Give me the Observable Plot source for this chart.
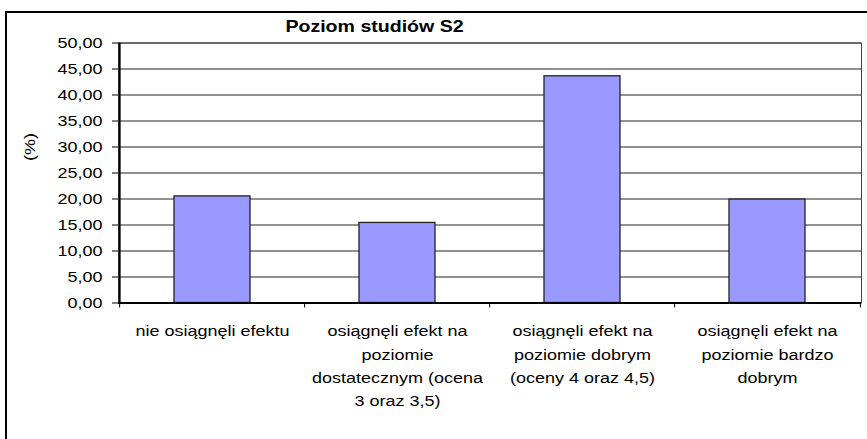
<!DOCTYPE html>
<html><head><meta charset="utf-8">
<script src="https://cdn.jsdelivr.net/npm/d3@7"></script>
<script src="https://cdn.jsdelivr.net/npm/@observablehq/plot@0.6"></script>
<style>
html,body{margin:0;padding:0;background:#fff;overflow:hidden;}
#wrap{position:relative;width:867px;height:439px;}
#border{position:absolute;left:5px;top:11px;width:900px;height:500px;border:2px solid #000;pointer-events:none;box-sizing:border-box;}
</style></head><body><div id="wrap"><div id="chart"></div><div id="border"></div></div>
<script>
const title = "Poziom studiów S2";
const yLabel = "(%)";
const categories = [
  "nie osiągnęli efektu",
  "osiągnęli efekt na\npoziomie\ndostatecznym (ocena\n3 oraz 3,5)",
  "osiągnęli efekt na\npoziomie dobrym\n(oceny 4 oraz 4,5)",
  "osiągnęli efekt na\npoziomie bardzo\ndobrym"
];
const values = [20.5, 15.4, 43.6, 19.9];
const yTicks = [0, 5, 10, 15, 20, 25, 30, 35, 40, 45, 50];

const data = categories.map((c, i) => ({cat: c, value: values[i]}));
const half = (867 - 118 - 6) / categories.length / 2;

const chart = Plot.plot({
  width: 867, height: 439,
  marginLeft: 118, marginRight: 6, marginTop: 42.5, marginBottom: 136.5,
  style: {fontFamily: "'Liberation Sans', Arial, sans-serif", fontSize: "15px", color: "#000", background: "transparent", overflow: "visible"},
  x: {domain: categories, paddingInner: 0.59, paddingOuter: 0.295},
  y: {domain: [0, 50]},
  marks: [
    Plot.gridY(yTicks, {stroke: "#222", strokeOpacity: 1}),
    Plot.axisY(yTicks, {tickSize: 6, tickPadding: 10, label: null, stroke: "#000",
      tickFormat: d => d.toFixed(2).replace(".", ",")}),
    Plot.barY(data, {x: "cat", y: "value", fill: "#9999FF", stroke: "#222", strokeWidth: 1.3}),
    Plot.frame({stroke: "#444"}),
    Plot.ruleY([0], {stroke: "#000", strokeWidth: 2}),
    Plot.ruleX(categories.slice(0, 1), {x: d => d, dx: -half, stroke: "#000", strokeWidth: 2}),
    Plot.axisX({tickSize: 5, tickFormat: () => "", dx: -half, label: null, stroke: "#000"}),
    Plot.axisX(categories.slice(-1), {tickSize: 5, tickFormat: () => "", dx: half, label: null, stroke: "#000"}),
    Plot.text(categories, {x: d => d, frameAnchor: "bottom", lineAnchor: "top", dy: 17, lineHeight: 1.55, fontSize: 15, fill: "#000"}),
    Plot.text([title], {frameAnchor: "top", lineAnchor: "bottom", dy: -11, dx: -115.5, fontWeight: "bold", fontSize: 16.3, fill: "#000"}),
    Plot.text([yLabel], {frameAnchor: "left", rotate: -90, dx: -88, dy: -12, fontSize: 15, fill: "#000"})
  ]
});
chart.querySelectorAll("text").forEach(t => {
  const tr = t.getAttribute("transform");
  t.setAttribute("transform", (tr ? tr + " " : "") + "scale(1.2,1)");
});
document.getElementById("chart").appendChild(chart);
</script></body></html>
